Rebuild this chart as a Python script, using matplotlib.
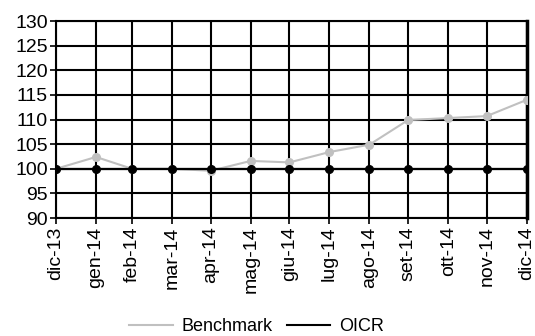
import pandas as pd
import matplotlib.pyplot as plt
from matplotlib.lines import Line2D

plt.rcParams['font.family'] = ['Liberation Sans', 'DejaVu Sans']

dates = ["2013-12-31", "2014-01-31", "2014-02-28", "2014-03-31", "2014-04-30",
         "2014-05-31", "2014-06-30", "2014-07-31", "2014-08-31", "2014-09-30",
         "2014-10-31", "2014-11-30", "2014-12-31"]
labels = ["dic-13", "gen-14", "feb-14", "mar-14", "apr-14", "mag-14", "giu-14",
          "lug-14", "ago-14", "set-14", "ott-14", "nov-14", "dic-14"]
benchmark = [100, 102.4, 100, 100, 99.6, 101.6, 101.3, 103.4, 104.9, 109.9, 110.3, 110.7, 114.0]
oicr = [100, 100, 100, 100, 100, 100, 100, 100, 100, 100, 100, 100, 100]

x = pd.to_datetime(dates)

fig = plt.figure(figsize=(5.35, 3.36), dpi=100)
ax = fig.add_axes([0.1047, 0.351, 0.880, 0.5865])

ax.plot(x, benchmark, color="#c0c0c0", lw=1.5, marker="o", ms=5.5, label="Benchmark", zorder=3)
ax.plot(x, oicr, color="black", lw=1.6, marker="o", ms=5.5, label="OICR", zorder=4)

ax.set_xlim(x[0], x[-1])
ax.set_ylim(90, 130)
ax.set_yticks(range(90, 131, 5))
ax.set_xticks(x)
ax.set_xticklabels(labels, rotation=90)
ax.tick_params(labelsize=14, length=4, width=1.2, pad=2)
ax.grid(True, color="black", lw=1.5)
ax.set_axisbelow(True)
for s in ax.spines.values():
    s.set_linewidth(1.5)
ax.spines["right"].set_linewidth(2.5)

h = [Line2D([], [], color="#c0c0c0", lw=1.5), Line2D([], [], color="black", lw=1.5)]
fig.legend(h, ["Benchmark", "OICR"], loc="center", bbox_to_anchor=(0.48, 0.028), ncol=2,
           frameon=False, fontsize=13, handlelength=2.4, columnspacing=0.8, handletextpad=0.5)

fig.savefig("out.png", dpi=100)
